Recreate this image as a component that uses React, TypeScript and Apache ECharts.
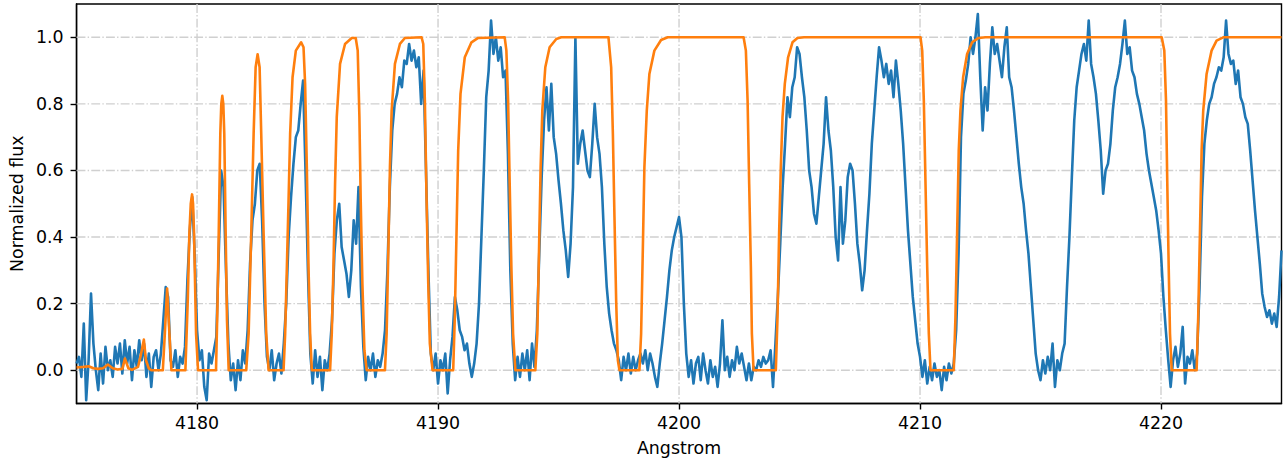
import React, { useEffect, useRef } from "react";
import * as echarts from "echarts";

const X_MIN = 4175;
const X_MAX = 4225;
const Y_MIN = -0.1;
const Y_MAX = 1.1;
const xTicks = [4180, 4190, 4200, 4210, 4220];
const yTicks = [0, 0.2, 0.4, 0.6, 0.8, 1.0];

// observed spectrum, sampled every 0.1 Angstrom from 4175.0
const observedStart = 4175.0;
const observedStep = 0.1;
const observedFlux = [
  0.02, 0.04, -0.02, 0.14, -0.09, 0.03, 0.23, 0.08, 0.0, -0.06,
  0.05, -0.04, 0.07, 0.0, 0.03, -0.02, 0.07, 0.02, 0.08, -0.01,
  0.09, 0.02, 0.07, -0.03, 0.06, 0.01, 0.09, 0.03, 0.08, -0.02,
  0.05, -0.05, 0.04, 0.06, 0.0, 0.05, 0.15, 0.25, 0.22, 0.03,
  0.01, 0.06, -0.02, 0.04, 0.02, 0.07, 0.27, 0.42, 0.52, 0.35,
  0.12, 0.03, 0.06, -0.05, -0.09, 0.05, 0.02, 0.06, 0.1, 0.35,
  0.6, 0.55, 0.3, 0.08, -0.03, 0.02, -0.06, 0.03, -0.03, 0.06,
  0.02, 0.12, 0.32, 0.45, 0.5, 0.6, 0.62, 0.45, 0.2, 0.04,
  0.0, 0.06, -0.03, 0.02, 0.05, -0.01, 0.08, 0.2, 0.4, 0.52,
  0.62, 0.7, 0.72, 0.8, 0.87, 0.6, 0.3, 0.05, -0.04, 0.06,
  -0.02, 0.04, -0.06, 0.03, 0.0, 0.05, 0.15, 0.35, 0.45, 0.5,
  0.37, 0.33, 0.29, 0.22, 0.3, 0.45, 0.38, 0.55, 0.25, 0.07,
  -0.03, 0.04, 0.0, 0.05, -0.02, 0.03, 0.01, 0.05, 0.12, 0.3,
  0.55, 0.72, 0.8, 0.83, 0.88, 0.85, 0.93, 0.92, 0.98, 0.93,
  0.96, 0.91, 0.94, 0.8, 0.9, 0.6, 0.3, 0.05, 0.0, 0.05,
  -0.04, 0.03, 0.0, 0.05, -0.07, 0.03, 0.1, 0.22, 0.18, 0.12,
  0.1, 0.06, 0.08, 0.02, -0.02, 0.02, 0.08, 0.2, 0.4, 0.6,
  0.82, 0.9, 1.05, 0.95, 1.0, 0.93, 0.97, 0.88, 0.9, 0.65,
  0.3, 0.08, -0.03, 0.04, -0.02, 0.05, 0.0, 0.06, -0.03, 0.08,
  0.01, 0.12, 0.35, 0.58, 0.75, 0.85, 0.72, 0.86, 0.7, 0.65,
  0.57, 0.5, 0.42, 0.36, 0.28, 0.38, 0.55, 1.0, 0.62, 0.68,
  0.72, 0.66, 0.6, 0.58, 0.68, 0.8, 0.7, 0.65, 0.55, 0.38,
  0.25, 0.17, 0.12, 0.08, 0.06, 0.03, -0.03, 0.04, 0.0, 0.05,
  -0.01, 0.04, 0.0, 0.03, 0.05, 0.02, 0.06, 0.0, 0.05, 0.02,
  -0.02, -0.05, 0.02, 0.08, 0.15, 0.22, 0.3, 0.36, 0.4, 0.43,
  0.46, 0.4, 0.2, 0.05, -0.02, 0.03, -0.04, 0.02, 0.04, -0.03,
  0.05, 0.0, -0.04, 0.03, -0.02, 0.01, -0.05, 0.02, 0.15, 0.0,
  0.04, -0.02, 0.03, 0.0, 0.07, 0.02, 0.05, 0.01, -0.03, 0.02,
  -0.03, 0.01, 0.0, 0.03, 0.01, 0.04, 0.02, 0.03, 0.06, -0.05,
  0.08, 0.22, 0.38, 0.55, 0.68, 0.82, 0.76, 0.85, 0.88, 0.97,
  0.95, 0.88, 0.82, 0.72, 0.6, 0.55, 0.47, 0.44, 0.52, 0.6,
  0.68, 0.82, 0.72, 0.66, 0.55, 0.4, 0.33, 0.55, 0.38, 0.45,
  0.58, 0.62, 0.6, 0.5, 0.38, 0.32, 0.24, 0.3, 0.42, 0.53,
  0.68, 0.78, 0.88, 0.97, 0.93, 0.88, 0.92, 0.86, 0.9, 0.82,
  0.93, 0.86, 0.78, 0.68, 0.55, 0.42, 0.32, 0.22, 0.15, 0.08,
  0.04, -0.02, 0.03, -0.04, 0.01, -0.03, 0.02, -0.02, 0.0, -0.06,
  0.01, -0.03, 0.02, -0.01, 0.02, 0.12, 0.35, 0.7, 0.83, 0.87,
  0.92, 1.0, 0.95, 1.0, 1.07, 0.88, 0.72, 0.85, 0.78, 0.92,
  1.03, 0.95, 0.98, 0.93, 0.88, 0.97, 1.03, 0.88, 0.85, 0.78,
  0.7, 0.62, 0.55, 0.5, 0.42, 0.35, 0.25, 0.15, 0.05, 0.0,
  -0.03, 0.03, -0.01, 0.04, 0.0, 0.08, -0.05, 0.03, 0.0, 0.05,
  0.08, 0.25, 0.4, 0.58, 0.75, 0.85, 0.9, 0.95, 0.98, 0.93,
  1.05, 0.92, 0.88, 0.83, 0.75, 0.66, 0.53, 0.6, 0.62, 0.68,
  0.78, 0.85, 0.88, 0.92, 0.98, 1.05, 0.95, 0.97, 0.9, 0.88,
  0.83, 0.8, 0.76, 0.72, 0.65, 0.6, 0.56, 0.52, 0.48, 0.42,
  0.35, 0.22, 0.12, 0.03, -0.05, 0.03, 0.07, 0.01, 0.05, 0.13,
  -0.04, 0.04, 0.02, 0.06, 0.0, 0.05, 0.25, 0.52, 0.68, 0.75,
  0.8, 0.82, 0.86, 0.88, 0.91, 0.9, 0.94, 1.05, 0.95, 0.92,
  0.93, 0.86, 0.9, 0.82, 0.8, 0.76, 0.74, 0.66, 0.57, 0.48,
  0.4, 0.32, 0.23, 0.19, 0.16, 0.18, 0.14, 0.17, 0.13, 0.22,
  0.36,
];

// model spectrum (wavelength, flux)
const modelWave = [
  4175.0, 4175.3, 4175.5, 4175.7, 4175.9, 4176.1, 4176.3, 4176.5, 4176.7, 4176.9,
  4177.006, 4177.15, 4177.3, 4177.55, 4177.65, 4177.793, 4177.88, 4178.0, 4178.1,
  4178.58, 4178.663, 4178.758, 4178.853, 4178.936,
  4179.516, 4179.615, 4179.681, 4179.739, 4179.793, 4179.834, 4179.876, 4179.959, 4180.041,
  4180.787, 4180.849, 4180.899, 4180.965, 4181.006, 4181.048, 4181.089, 4181.13, 4181.188, 4181.242, 4181.313,
  4182.041, 4182.141, 4182.248, 4182.348, 4182.431, 4182.513, 4182.596, 4182.663, 4182.762, 4182.87, 4182.969,
  4183.59, 4183.656, 4183.727, 4183.797, 4183.863, 4183.963, 4184.099, 4184.319, 4184.418, 4184.484, 4184.555, 4184.625, 4184.692, 4184.762,
  4185.52, 4185.59, 4185.66, 4185.727, 4185.797, 4185.934, 4186.141, 4186.418, 4186.584, 4186.667, 4186.737, 4186.791, 4186.861, 4186.944, 4187.039,
  4187.797, 4187.867, 4187.938, 4188.004, 4188.075, 4188.211, 4188.418, 4188.625, 4189.317, 4189.387, 4189.453, 4189.524, 4189.594, 4189.66, 4189.772,
  4190.629, 4190.696, 4190.766, 4190.836, 4190.932, 4191.11, 4191.387, 4191.665, 4192.766, 4192.836, 4192.907, 4192.973, 4193.043, 4193.114, 4193.209,
  4194.037, 4194.12, 4194.19, 4194.257, 4194.327, 4194.451, 4194.63, 4194.907, 4195.114, 4197.072, 4197.184, 4197.255, 4197.321, 4197.391, 4197.462, 4197.528,
  4198.356, 4198.427, 4198.497, 4198.563, 4198.662, 4198.77, 4198.977, 4199.255, 4199.532, 4202.679, 4202.774, 4202.845, 4202.911, 4202.981, 4203.023, 4203.093,
  4204.017, 4204.087, 4204.153, 4204.224, 4204.294, 4204.389, 4204.526, 4204.708, 4204.915, 4205.189, 4210.021, 4210.091, 4210.158, 4210.228, 4210.298, 4210.365, 4210.435,
  4211.4, 4211.47, 4211.54, 4211.607, 4211.677, 4211.789, 4211.954, 4212.162, 4212.435, 4212.712, 4220.029, 4220.137, 4220.207, 4220.261, 4220.319, 4220.373, 4220.443,
  4221.478, 4221.544, 4221.615, 4221.685, 4221.752, 4221.892, 4222.099, 4222.306, 4222.58, 4225.0,
];
const modelFlux = [
  0.008, 0.01, 0.012, 0.006, 0.004, 0.006, 0.017, 0.006, 0.002, 0.004,
  0.035, 0.006, 0.001, 0.01, 0.04, 0.092, 0.03, 0.005, 0.0,
  0.0, 0.11, 0.245, 0.11, 0.0,
  0.0, 0.21, 0.41, 0.5, 0.528, 0.5, 0.41, 0.11, 0.0,
  0.0, 0.2, 0.41, 0.71, 0.8, 0.824, 0.8, 0.71, 0.41, 0.15, 0.0,
  0.0, 0.11, 0.41, 0.71, 0.91, 0.949, 0.91, 0.71, 0.41, 0.11, 0.0,
  0.0, 0.11, 0.31, 0.51, 0.71, 0.88, 0.96, 0.985, 0.97, 0.86, 0.61, 0.31, 0.11, 0.0,
  0.0, 0.11, 0.31, 0.56, 0.76, 0.92, 0.98, 0.998, 0.998, 0.96, 0.76, 0.51, 0.26, 0.06, 0.0,
  0.0, 0.11, 0.36, 0.61, 0.78, 0.92, 0.98, 0.998, 1.0, 0.98, 0.81, 0.51, 0.26, 0.08, 0.0,
  0.0, 0.16, 0.41, 0.66, 0.83, 0.94, 0.985, 0.998, 1.0, 0.96, 0.81, 0.56, 0.31, 0.11, 0.0,
  0.0, 0.11, 0.36, 0.61, 0.78, 0.91, 0.97, 0.995, 1.0, 1.0, 0.91, 0.71, 0.46, 0.21, 0.03, 0.0,
  0.0, 0.11, 0.36, 0.61, 0.78, 0.89, 0.96, 0.992, 1.0, 1.0, 0.96, 0.81, 0.56, 0.31, 0.11, 0.0,
  0.0, 0.16, 0.41, 0.61, 0.76, 0.86, 0.94, 0.985, 0.998, 1.0, 1.0, 0.96, 0.81, 0.56, 0.31, 0.11, 0.0,
  0.0, 0.16, 0.41, 0.66, 0.78, 0.88, 0.95, 0.985, 0.998, 1.0, 1.0, 0.96, 0.81, 0.56, 0.31, 0.11, 0.0,
  0.0, 0.16, 0.41, 0.66, 0.78, 0.89, 0.96, 0.99, 1.0, 1.0,
];

const FONT = "DejaVu Sans";
const FONT_SIZE = 17.4;
const GRID_COLOR = "#d0d0d0";
const GRID_DASH = [8.9, 2.2, 1.4, 2.2];

export default function App() {
  const ref = useRef<HTMLDivElement>(null);

  useEffect(() => {
    if (!ref.current) return;
    const chart = echarts.init(ref.current, undefined, { renderer: "svg" });

    const observed = observedFlux.map((v, i) => [
      +(observedStart + i * observedStep).toFixed(2),
      v,
    ]);
    const model = modelWave.map((w, i) => [w, modelFlux[i]]);

    const axisText = { fontFamily: FONT, fontSize: FONT_SIZE, color: "#000" };

    chart.setOption({
      animation: false,
      grid: {
        left: 73.5,
        right: 1.5,
        top: 4,
        bottom: 58.5,
        show: true,
        borderColor: "#000",
        borderWidth: 1.4,
        backgroundColor: "transparent",
      },
      xAxis: {
        type: "value",
        min: X_MIN,
        max: X_MAX,
        name: "Angstrom",
        nameLocation: "middle",
        nameGap: 36,
        nameTextStyle: axisText,
        axisLine: { show: true, onZero: false, lineStyle: { color: "#000", width: 1.4 } },
        axisTick: {
          show: true,
          length: 6,
          customValues: xTicks,
          lineStyle: { color: "#000", width: 1.4 },
        },
        axisLabel: {
          ...axisText,
          margin: 11,
          customValues: xTicks,
          formatter: (v: number) => String(v),
        },
        splitLine: { show: false },
      },
      yAxis: {
        type: "value",
        min: Y_MIN,
        max: Y_MAX,
        name: "Normalized flux",
        nameLocation: "middle",
        nameGap: 49,
        nameTextStyle: axisText,
        axisLine: { show: true, onZero: false, lineStyle: { color: "#000", width: 1.4 } },
        axisTick: {
          show: true,
          length: 6,
          customValues: yTicks,
          lineStyle: { color: "#000", width: 1.4 },
        },
        axisLabel: {
          ...axisText,
          margin: 13,
          customValues: yTicks,
          formatter: (v: number) => v.toFixed(1),
        },
        splitLine: { show: false },
      },
      series: [
        {
          type: "custom",
          z: 1,
          silent: true,
          data: yTicks.map((v) => [X_MIN, v]),
          encode: { x: 0, y: 1 },
          renderItem: (params: any, api: any) => {
            const p = api.coord([X_MIN, api.value(1)]);
            const cs = params.coordSys;
            return {
              type: "line",
              shape: { x1: cs.x, y1: p[1], x2: cs.x + cs.width, y2: p[1] },
              style: { stroke: GRID_COLOR, lineWidth: 1.4, lineDash: GRID_DASH },
            };
          },
        },
        {
          type: "custom",
          z: 1,
          silent: true,
          data: xTicks.map((v) => [v, Y_MIN]),
          encode: { x: 0, y: 1 },
          renderItem: (params: any, api: any) => {
            const p = api.coord([api.value(0), Y_MIN]);
            const cs = params.coordSys;
            return {
              type: "line",
              shape: { x1: p[0], y1: cs.y, x2: p[0], y2: cs.y + cs.height },
              style: { stroke: GRID_COLOR, lineWidth: 1.4, lineDash: GRID_DASH },
            };
          },
        },
        {
          type: "line",
          name: "observed",
          z: 2,
          data: observed,
          showSymbol: false,
          symbol: "none",
          clip: true,
          lineStyle: { color: "#1f77b4", width: 2.6, join: "round" },
          itemStyle: { color: "#1f77b4" },
        },
        {
          type: "line",
          name: "model",
          z: 3,
          data: model,
          showSymbol: false,
          symbol: "none",
          clip: true,
          lineStyle: { color: "#ff7f0e", width: 2.6, join: "round" },
          itemStyle: { color: "#ff7f0e" },
        },
      ],
    });

    return () => chart.dispose();
  }, []);

  return (
    <div
      ref={ref}
      style={{ position: "absolute", left: 0, top: 0, width: 1283, height: 462, background: "#fff" }}
    />
  );
}
